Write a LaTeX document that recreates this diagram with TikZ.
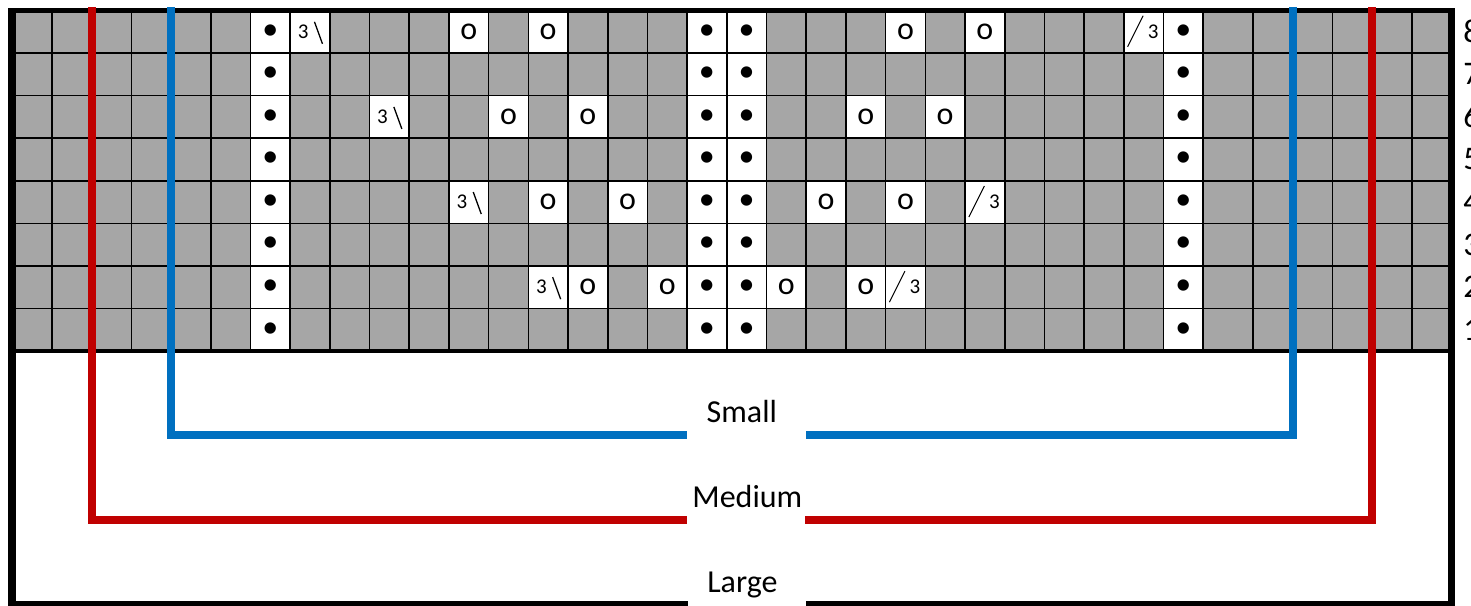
\documentclass[tikz,border=0pt]{standalone}
\usepackage{fontspec}
\setmainfont{Carlito}

\definecolor{grigio}{RGB}{166,166,166}
\definecolor{blu}{RGB}{0,112,192}
\definecolor{rosso}{RGB}{192,0,0}

\newcommand{\tre}{\fontsize{10.5}{12}\selectfont 3}

\tikzset{
  cella/.style={fill=white, inner sep=0pt, minimum width=19.85pt, minimum height=21.28pt,
    font=\fontsize{16}{19}\selectfont},
  griglia/.style={black, line width=0.8pt},
  bordo/.style={black, line width=3.75pt},
  taglia/.style={line width=4pt, line join=miter},
  tratto/.style={black, line width=0.65pt},
  etichetta/.style={anchor=base, inner sep=0pt, font=\fontsize{16}{19}\selectfont},
  numero/.style={anchor=west, inner sep=0pt, font=\fontsize{16.5}{19}\selectfont}
}

\begin{document}
\begin{tikzpicture}[x=0.5pt, y=-0.5pt]
\useasboundingbox (0,0) rectangle (1471,605);

% sfondo griglia
\fill[grigio] (12.2,10.5) rectangle (1451.5,351);

% maglie rovescio
\foreach \r in {1,...,8}
  \foreach \c in {6,17,18,29}
    \node[cella] (p\c-\r) at ({12.2+39.7*(\c+0.5)},{10.5+42.5625*(8.5-\r)}) {•};

% gettati
\foreach \c/\r in {11/8,13/8,22/8,24/8,12/6,14/6,21/6,23/6,13/4,15/4,20/4,22/4,14/2,16/2,19/2,21/2}
  \node[cella] (p\c-\r) at ({12.2+39.7*(\c+0.5)},{10.5+42.5625*(8.5-\r)}) {o};

% diminuzioni a sinistra
\foreach \c/\r in {7/8,9/6,11/4,13/2} {
  \node[cella] (p\c-\r) at ({12.2+39.7*(\c+0.5)},{10.5+42.5625*(8.5-\r)}) {\tre\kern6.8pt};
  \draw[tratto] (p\c-\r) ++(4.5,-10) -- ++(8,22);
}

% diminuzioni a destra
\foreach \c/\r in {28/8,24/4,22/2} {
  \node[cella] (p\c-\r) at ({12.2+39.7*(\c+0.5)},{10.5+42.5625*(8.5-\r)}) {\kern9.5pt\tre};
  \draw[tratto, line width=0.5pt] (p\c-\r) ++(-16,15) -- ++(15.5,-31);
}

% linee della griglia
\foreach \k in {1,...,30}
  \draw[griglia] ({12.2+39.7*\k},10.5) -- ({12.2+39.7*\k},351);
\foreach \k in {31,...,35}
  \draw[griglia] ({22.5+39.7*\k},10.5) -- ({22.5+39.7*\k},351);
\foreach \r in {1,...,7}
  \draw[griglia] (12.2,{10.5+42.5625*\r}) -- (1451.5,{10.5+42.5625*\r});

% cornice
\coordinate (large-sx) at (687.7,603.5);
\coordinate (large-dx) at (806,603.5);
\draw[bordo] (12.15,8.3) -- (12.15,605);
\draw[bordo] (1451.5,8.3) -- (1451.5,605);
\draw[bordo, line width=2.25pt] (8.3,10.5) -- (1455.3,10.5);
\draw[bordo, line width=2.25pt] (8.3,351) -- (1455.3,351);
\draw[bordo, line width=2.5pt] (8.3,603.5) -- (large-sx);
\draw[bordo, line width=2.5pt] (large-dx) -- (1455.3,603.5);

% taglie
\coordinate (blu-alto-sx) at (171,7.3);
\coordinate (blu-alto-dx) at (1293.2,7.3);
\coordinate (blu-sx) at (686.7,434.7);
\coordinate (blu-dx) at (806,434.7);
\coordinate (rosso-alto-sx) at (91.6,7.3);
\coordinate (rosso-alto-dx) at (1372.4,7.3);
\coordinate (rosso-sx) at (687,519.8);
\coordinate (rosso-dx) at (805,519.8);

\draw[taglia, blu] (blu-alto-sx) |- (blu-sx);
\draw[taglia, blu] (blu-dx) -| (blu-alto-dx);
\draw[taglia, rosso] (rosso-alto-sx) |- (rosso-sx);
\draw[taglia, rosso] (rosso-dx) -| (rosso-alto-dx);

\node[etichetta] (small) at (741.8,422.3) {Small};
\node[etichetta] (medium) at (747.3,507.3) {Medium};
\node[etichetta] (large) at (742.4,592.3) {Large};

% numeri dei ferri
\foreach \r in {1,...,8}
  \node[numero] (n\r) at (1463,{10.5+42.5625*(8.5-\r)}) {\r};

\end{tikzpicture}
\end{document}
